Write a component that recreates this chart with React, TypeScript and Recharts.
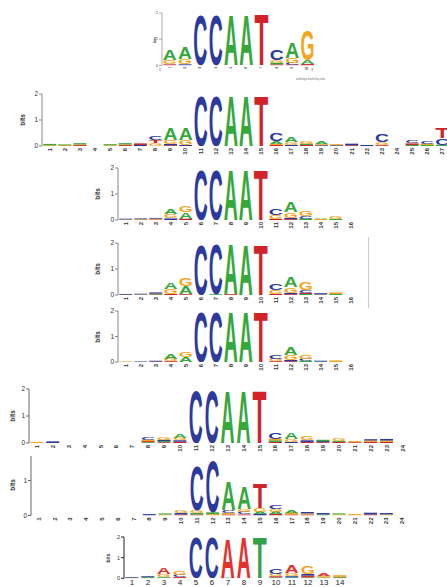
import React from "react";
import { BarChart, Bar, XAxis, YAxis } from "recharts";

// each stack is read bottom -> top, "<letter><bits>"
const P1_LABELS = ["1", "2", "3", "4", "5", "6", "7", "8", "9", "10"];
const P1_STACKS = [
  "T.04 G.16 A.42", "C.04 G.2 A.44", "C1.95", "C1.95", "A1.95",
  "A1.95", "T1.95", "T.04 A.06 G.12 C.38", "T.03 C.07 G.2 A.62", "T.05 A.15 G1.17",
];

const P2_LABELS = Array.from({ length: 27 }, (_, i) => String(i + 1));
const P2_STACKS = [
  "G.03 A.05", "G.04 A.02", "T.04 G.02 A.05", "", "G.03 A.04", "T.04 G.02 A.05",
  "C.04 T.06", "G.12 T.12 C.16", "T.03 C.05 G.14 A.46", "C.04 G.18 A.46",
  "C1.96", "C1.96", "A1.96", "A1.96", "T1.96",
  "T.04 G.04 A.12 C.3", "C.04 G.1 A.18", "T.04 A.05 G.11", "C.03 G.04 A.1",
  "C.03 G.04", "T.03 C.06", "C.04", "T.03 G.12 C.3", "", "A.04 T.06 C.1",
  "A.04 G.05 C.09", "A.05 C.25 T.42",
];

const P3_LABELS = Array.from({ length: 16 }, (_, i) => String(i + 1));
const P3_STACKS = [
  "G.02 C.03", "G.03 C.03", "T.02 G.03 C.03", "C.06 G.16 A.22", "T.05 A.26 G.26",
  "C1.96", "C1.96", "A1.96", "A1.96", "T1.96",
  "T.04 G.16 C.24", "T.03 C.05 G.22 A.38", "A.05 C.1 G.2", "G.04 A.07", "A.04 G.08", "",
];

const P4_STACKS = [
  "G.02 C.02", "G.02 C.03", "A.03 T.03 C.04", "T.04 G.18 A.26", "T.03 A.32 G.28",
  "C1.96", "A.03 C1.93", "T.03 A1.93", "A1.96", "T1.96",
  "T.04 G.15 C.24", "T.03 C.05 G.22 A.4", "A.04 T.04 C.12 G.28", "G.02 C.05", "A.04 G.06", "",
];

const P5_STACKS = [
  "G.02", "C.02", "T.02 C.03", "T.03 G.1 A.2", "A.18 G.2",
  "C1.96", "C1.96", "A1.96", "A1.96", "T1.96",
  "T.03 G.1 C.14", "T.03 C.05 G.2 A.32", "A.04 C.08 G.15", "A.02 C.03", "G.06", "",
];

const P6_LABELS = Array.from({ length: 24 }, (_, i) => String(i + 1));
const P6_STACKS = [
  "G.04", "C.06", "", "", "", "", "",
  "A.03 T.04 G.05 C.1", "T.03 A.04 C.05 G.1", "T.05 C.05 G.1 A.15",
  "C1.96", "C1.96", "A1.96", "A1.96", "T1.96",
  "T.04 A.06 G.06 C.26", "C.04 G.1 A.25", "T.04 C.06 G.12", "T.03 C.04 A.05",
  "T.04 A.04 G.07", "T.03 G.04", "T.04 G.05 C.05", "T.04 G.05 C.06", "",
];

const P7_STACKS = [
  "", "", "", "", "", "", "",
  "C.04", "G.03 A.03", "T.03 C.04 G.09",
  "T.03 A.04 G.08 C1.28", "G.04 A.05 C1.48", "T.03 G.04 C.08 A.85",
  "T.03 C.07 G.08 A.63", "C.05 A.06 G.1 T.7", "T.05 A.06 G.08 C.12",
  "T.03 G.05 A.07", "T.03 G.03 C.04", "A.03 C.04", "G.03 A.03", "G.04",
  "T.03 C.05", "G.03 C.04", "",
];

const P8_LABELS = Array.from({ length: 14 }, (_, i) => String(i + 1));
const P8_STACKS = [
  "G.02 C.03", "A.03 T.03 C.04", "T.05 G.15 A.3", "A.06 C.12 G.2",
  "C1.96", "C1.96", "T.03 A1.93", "A1.96", "T1.96",
  "T.05 A.05 G.12 C.26", "T.05 C.05 G.15 A.4", "T.05 A.08 C.08 G.38",
  "T.04 G.06 A.1", "A.04 T.03 G.08",
];

const WEBLOGO = { A: "#35a83c", C: "#2c3a9c", G: "#f5a51c", T: "#d2232a" };
const ALT = { A: "#e3322e", C: "#2c3c9e", G: "#f4a31c", T: "#31a24a" };

const ADV: Record<string, number> = { A: 72.2, C: 72.2, G: 77.8, T: 61.1 };
const CAP = 71.6;
const LAYERS = [0, 1, 2, 3];

function Glyph(props: any) {
  const { x, y, width, height, letter, color } = props;
  if (!letter || !height || height <= 0) return null;
  if (height < 1.8) {
    return <rect x={x + 0.5} y={y} width={Math.max(width - 1, 0)} height={Math.max(height, 0.8)} fill={color} />;
  }
  const sx = width / ADV[letter];
  const sy = height / CAP;
  return (
    <text
      transform={`translate(${x},${y + height}) scale(${sx},${sy})`}
      fontSize={100}
      fontFamily="'Liberation Sans', Arial, sans-serif"
      fontWeight="bold"
      fill={color}
    >
      {letter}
    </text>
  );
}

function Panel({ stacks, labels, axisX, topY, baseY, step, yMax = 2, ticks = [0, 1, 2],
  colors, tickFont = 6.5, labelFont = 6, rotate = true, axisColor = "#888", bitsX, bitsFont = 6.5, labelDy = 2 }: any) {
  const rows = stacks.map((s: string, i: number) => {
    const row: any = { pos: labels[i] };
    const toks = s.split(" ").filter(Boolean);
    LAYERS.forEach((k) => {
      const t = toks[k];
      row[`h${k}`] = t ? parseFloat(t.slice(1)) : 0;
      row[`l${k}`] = t ? t[0] : "";
    });
    return row;
  });
  const yw = 24;
  const top = 4;
  const plotH = baseY - topY;
  const xh = 16;
  const w = yw + stacks.length * step + 2;
  const h = top + plotH + xh;

  const renderTick = (p: any) => {
    const ly = top + plotH + labelDy;
    if (rotate) {
      return (
        <text transform={`translate(${p.x},${ly}) rotate(-90)`} textAnchor="end" dominantBaseline="central"
          fontSize={labelFont} fontWeight="bold" fill="#333" fontFamily="'Liberation Sans', Arial, sans-serif">
          {p.payload.value}
        </text>
      );
    }
    return (
      <text x={p.x} y={ly} textAnchor="middle" dominantBaseline="hanging" fontSize={labelFont}
        fill="#222" fontFamily="'Liberation Sans', Arial, sans-serif">
        {p.payload.value}
      </text>
    );
  };

  return (
    <>
      <div style={{ position: "absolute", left: axisX - yw, top: topY - top }}>
        <BarChart width={w} height={h} data={rows} margin={{ top, right: 2, left: 0, bottom: 0 }}
          barCategoryGap="5%">
          <XAxis dataKey="pos" interval={0} tickLine={false} axisLine={false} height={xh} tick={renderTick} />
          <YAxis width={yw} domain={[0, yMax]} ticks={ticks} allowDataOverflow tickSize={3} tickMargin={1}
            stroke={axisColor} tick={{ fontSize: tickFont, fill: "#333", fontFamily: "'Liberation Sans', Arial, sans-serif" }} />
          {LAYERS.map((k) => (
            <Bar key={k} dataKey={`h${k}`} stackId="s" isAnimationActive={false}
              shape={(p: any) => <Glyph {...p} letter={p.payload[`l${k}`]} color={colors[p.payload[`l${k}`]]} />} />
          ))}
        </BarChart>
      </div>
      <div style={{
        position: "absolute", left: bitsX, top: (topY + baseY) / 2, transform: "translate(-50%,-50%) rotate(-90deg)",
        fontSize: bitsFont, fontWeight: "bold", color: "#333", lineHeight: 1,
      }}>bits</div>
    </>
  );
}

export default function App() {
  return (
    <div style={{ position: "absolute", left: 0, top: 0, width: 447, height: 587, overflow: "hidden",
      background: "#fff", fontFamily: "'Liberation Sans', Arial, sans-serif" }}>
      <Panel stacks={P1_STACKS} labels={P1_LABELS} axisX={161.5} topY={13.3} baseY={65.7} step={15.3}
        colors={WEBLOGO} tickFont={3.5} labelFont={3} bitsX={156} bitsFont={3.5} axisColor="#aaa" labelDy={1.5} />
      <div style={{ position: "absolute", left: 159, top: 68, fontSize: 3.5, color: "#555" }}>5'</div>
      <div style={{ position: "absolute", left: 311, top: 68, fontSize: 3.5, color: "#555" }}>3'</div>
      <div style={{ position: "absolute", left: 296, top: 77, fontSize: 3, color: "#777" }}>weblogo.berkeley.edu</div>

      <Panel stacks={P2_STACKS} labels={P2_LABELS} axisX={42} topY={94} baseY={146} step={15.1}
        colors={WEBLOGO} bitsX={22.7} />
      <Panel stacks={P3_STACKS} labels={P3_LABELS} axisX={117.5} topY={168} baseY={220} step={15}
        colors={WEBLOGO} bitsX={98} />
      <Panel stacks={P4_STACKS} labels={P3_LABELS} axisX={117.5} topY={243} baseY={295} step={15}
        colors={WEBLOGO} bitsX={98} />
      <div style={{ position: "absolute", left: 368, top: 237, width: 1, height: 71, background: "#c9ccd8" }} />
      <Panel stacks={P5_STACKS} labels={P3_LABELS} axisX={117.5} topY={311} baseY={362} step={15}
        colors={WEBLOGO} bitsX={98} />
      <Panel stacks={P6_STACKS} labels={P6_LABELS} axisX={29} topY={389} baseY={443} step={15.9}
        colors={WEBLOGO} bitsX={12.7} axisColor="#666" />
      <Panel stacks={P7_STACKS} labels={P6_LABELS} axisX={31} topY={455.5} baseY={515} step={15.8}
        yMax={1.7} ticks={[0, 1]} colors={WEBLOGO} bitsX={12.7} axisColor="#666" />
      <Panel stacks={P8_STACKS} labels={P8_LABELS} axisX={124} topY={537} baseY={578.3} step={16}
        colors={ALT} rotate={false} labelFont={8} tickFont={5.5} bitsX={108} bitsFont={5} axisColor="#222" labelDy={1.5} />
    </div>
  );
}
